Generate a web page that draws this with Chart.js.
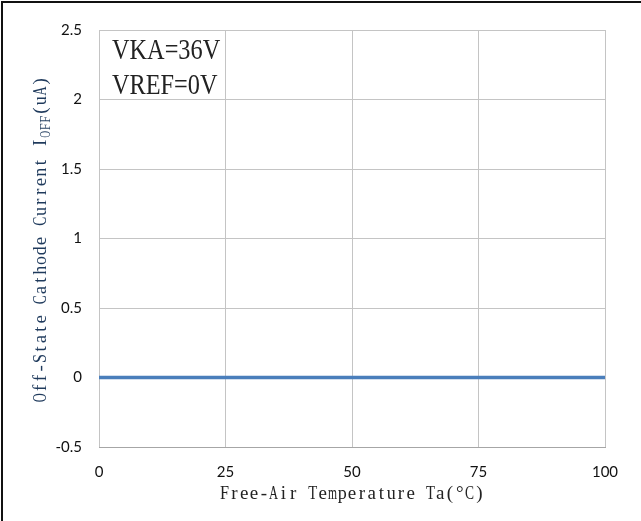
<!DOCTYPE html>
<html>
<head>
<meta charset="utf-8">
<script src="https://cdn.jsdelivr.net/npm/chart.js@4.4.1/dist/chart.umd.min.js"></script>
<style>
  html, body { margin: 0; padding: 0; background: #fff; }
  #wrap { width: 641px; height: 521px; }
</style>
</head>
<body>
<div id="wrap"><canvas id="grafico" width="641" height="521"></canvas></div>
<script>
// temperatura (°C) e corrente IOFF (uA)
const temperaturas = [0, 25, 50, 75, 100];
const correnteOff = [0, 0, 0, 0, 0];
const ticksY = [-0.5, 0, 0.5, 1, 1.5, 2, 2.5];
const notas = ["VKA=36V", "VREF=0V"];
const tituloX = "Free-Air Temperature Ta(°C)";
const tituloY = ["Off-State Cathode Current I", "OFF", "(uA)"];

// desenha texto com largura fixa por caractere (tipo SimSun)
function escreveMono(ctx, texto, x, y, passo) {
  for (let i = 0; i < texto.length; i++) {
    const c = texto[i];
    const w = ctx.measureText(c).width;
    const k = Math.min(1, (passo * 0.92) / (w || 1));
    ctx.save();
    ctx.translate(x + passo * i + passo / 2, y);
    ctx.scale(k, 1);
    ctx.fillText(c, 0, 0);
    ctx.restore();
  }
  return x + passo * texto.length;
}

const textosExtras = {
  id: "textosExtras",
  beforeDraw(chart) {
    const ctx = chart.ctx;
    ctx.save();
    ctx.fillStyle = "#111";
    ctx.fillRect(1, 1, 2, 520);
    ctx.fillRect(1, 1, 640, 2);
    ctx.restore();
  },
  afterDraw(chart) {
    const ctx = chart.ctx;
    const area = chart.chartArea;

    // titulo eixo X
    ctx.save();
    ctx.fillStyle = "#222";
    ctx.font = "19px 'Liberation Serif'";
    ctx.textAlign = "center";
    ctx.textBaseline = "alphabetic";
    const passoX = 9.8;
    const larguraX = passoX * tituloX.length;
    escreveMono(ctx, tituloX, (area.left + area.right) / 2 - larguraX / 2, 499, passoX);
    ctx.restore();

    // titulo eixo Y (rotacionado, com subscrito)
    ctx.save();
    ctx.translate(46, (area.top + area.bottom) / 2 + 1);
    ctx.rotate(-Math.PI / 2);
    ctx.fillStyle = "#1f3a5c";
    ctx.textAlign = "center";
    ctx.textBaseline = "alphabetic";
    const passoY = 9.8;
    const passoSub = 7.5;
    const total = passoY * (tituloY[0].length + tituloY[2].length) + passoSub * tituloY[1].length;
    let pos = -total / 2;
    ctx.font = "19px 'Liberation Serif'";
    pos = escreveMono(ctx, tituloY[0], pos, 0, passoY);
    ctx.font = "14px 'Liberation Serif'";
    pos = escreveMono(ctx, tituloY[1], pos, 4, passoSub);
    ctx.font = "19px 'Liberation Serif'";
    escreveMono(ctx, tituloY[2], pos, 0, passoY);
    ctx.restore();

    // anotacoes
    ctx.save();
    ctx.fillStyle = "#222";
    ctx.font = "27px 'Liberation Serif'";
    ctx.textAlign = "left";
    ctx.textBaseline = "alphabetic";
    notas.forEach((nota, i) => {
      ctx.save();
      ctx.translate(112, 59 + i * 35);
      ctx.scale(0.9, 1.12);
      ctx.fillText(nota, 0, 0);
      ctx.restore();
    });
    ctx.restore();
  }
};

const grafico = new Chart(document.getElementById("grafico"), {
  type: "line",
  data: {
    datasets: [
      {
        label: "IOFF",
        data: temperaturas.map((t, i) => ({ x: t, y: correnteOff[i] })),
        borderColor: "#4a7ebb",
        borderWidth: 3.5,
        pointRadius: 0,
        fill: false,
      },
    ],
  },
  plugins: [textosExtras],
  options: {
    responsive: false,
    animation: false,
    layout: { padding: { top: 30, right: 36, left: 0, bottom: 0 } },
    plugins: {
      legend: { display: false },
      tooltip: { enabled: false },
    },
    scales: {
      x: {
        type: "linear",
        min: 0,
        max: 100,
        afterBuildTicks: (s) => { s.ticks = temperaturas.map((v) => ({ value: v })); },
        afterFit: (s) => { s.height = 74; },
        grid: { color: "#c4c4c4", drawTicks: false, lineWidth: 1 },
        border: { color: "#a6a6a6", width: 1 },
        ticks: {
          padding: 16,
          color: "#111",
          font: { family: "Lato", size: 15 },
          maxRotation: 0,
          callback: (v) => String(v),
        },
      },
      y: {
        type: "linear",
        min: -0.5,
        max: 2.5,
        afterBuildTicks: (s) => { s.ticks = ticksY.map((v) => ({ value: v })); },
        afterFit: (s) => { s.width = 99; },
        grid: { color: "#c4c4c4", drawTicks: false, lineWidth: 1 },
        border: { display: false },
        ticks: {
          padding: 17,
          color: "#111",
          font: { family: "Lato", size: 15 },
          callback: (v) => String(v),
        },
      },
    },
  },
});
</script>
</body>
</html>
